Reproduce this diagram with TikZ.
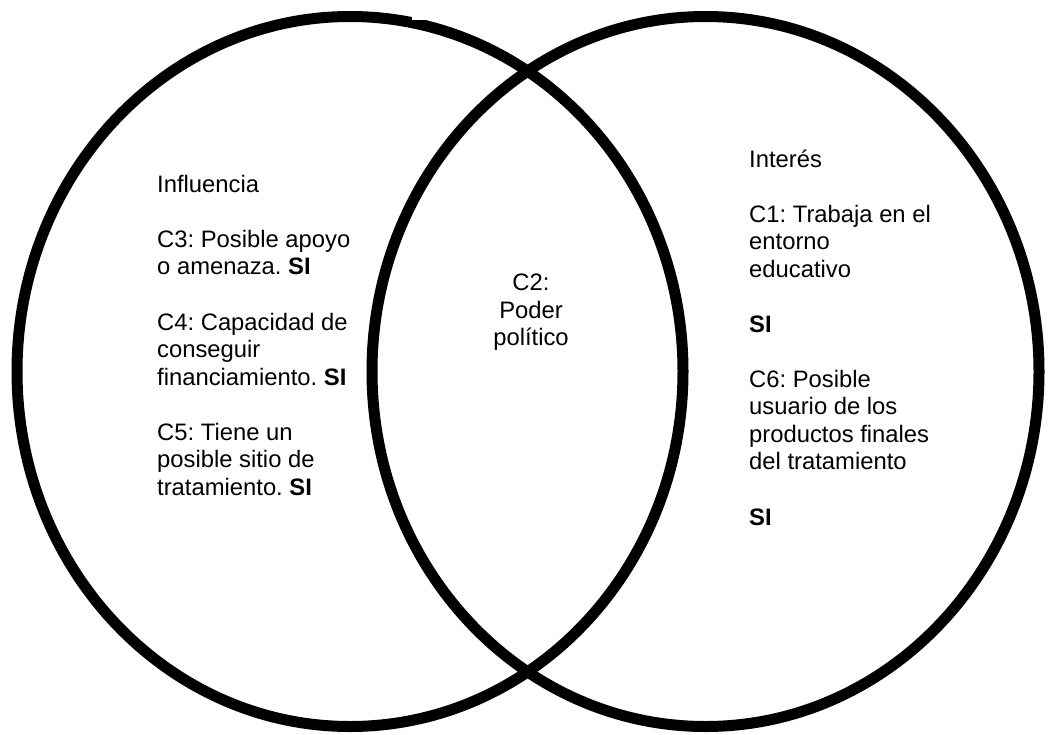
\documentclass[tikz,border=0pt]{standalone}
\usepackage{fontspec}
\setmainfont{Liberation Sans}
\frenchspacing
\begin{document}
\begin{tikzpicture}[x=1pt,y=-1pt,
  ring/.style={line width=11pt, draw=black},
  txt/.style={font=\fontsize{23.8}{27.5}\selectfont\frenchspacing, inner sep=0pt, align=left, anchor=base west},
  ctxt/.style={font=\fontsize{23.8}{27.5}\selectfont\frenchspacing, inner sep=0pt, align=center, anchor=base}]
\useasboundingbox (0,0) rectangle (1052,734);
\fill[white] (0,0) rectangle (1052,734);
\draw[ring] (350,371.5) ellipse [x radius=333, y radius=355];
\draw[ring] (705.5,371.5) ellipse [x radius=333.5, y radius=355];
\fill[white] (412,0) rectangle (440,19.5);
% left (base anchor = baseline of the last line)
\node[txt] (infl) at (157,192) {Influencia};
\node[txt] (c3) at (157,274.5) {C3: Posible apoyo\\o amenaza. \textbf{SI}};
\node[txt] (c4) at (157,385) {C4: Capacidad de\\conseguir\\financiamiento. \textbf{SI}};
\node[txt] (c5) at (157,495) {C5: Tiene un\\posible sitio de\\tratamiento. \textbf{SI}};
% centre
\node[ctxt] (c2) at (531,345.5) {C2:\\Poder\\político};
% right
\node[txt] (int) at (749,167) {Interés};
\node[txt] (c1) at (749,277) {C1: Trabaja en el\\entorno\\educativo};
\node[txt] (si1) at (749,332) {\textbf{SI}};
\node[txt] (c6) at (749,469.5) {C6: Posible\\usuario de los\\productos finales\\del tratamiento};
\node[txt] (si2) at (749,525) {\textbf{SI}};
\end{tikzpicture}
\end{document}
